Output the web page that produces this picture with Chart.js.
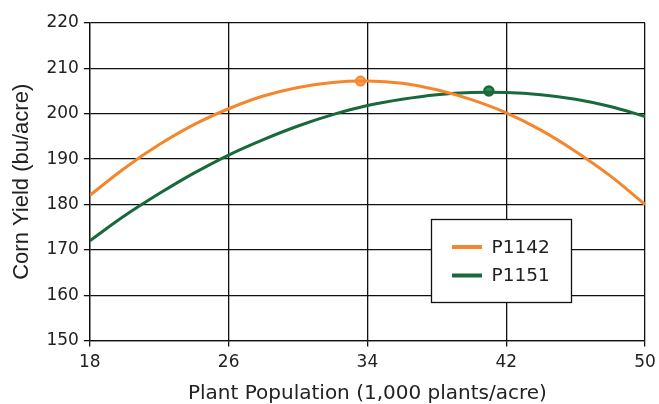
<!DOCTYPE html>
<html>
<head>
<meta charset="utf-8">
<script src="https://cdn.jsdelivr.net/npm/chart.js@4/dist/chart.umd.min.js"></script>
<style>
html,body{margin:0;padding:0;background:#fff;}
#wrap{width:659px;height:404px;position:relative;}
</style>
</head>
<body>
<div id="wrap"><canvas id="c" width="659" height="404"></canvas></div>
<script>
const populations = [18,20,22,24,26,28,30,32,34,36,38,40,42,44,46,48,50];
const p1142 = [182.0,188.0,193.2,197.6,201.1,203.9,205.8,206.9,207.2,206.7,205.3,203.1,200.2,196.4,191.7,186.3,180.0];
const p1151 = [172.0,177.5,182.4,186.9,190.9,194.3,197.3,199.8,201.8,203.2,204.2,204.7,204.7,204.2,203.2,201.6,199.4];
const p1142Max = {x:33.6, y:207.2};
const p1151Max = {x:41.0, y:205.0};
const seriesNames = ['P1142','P1151'];
const xTicks = [18,26,34,42,50];
const yTicks = [150,160,170,180,190,200,210,220];

const ORANGE = '#F6862C';
const GREEN = '#186A3A';
const FONT = '"DejaVu Sans", Verdana, sans-serif';
const YFONT = '"Liberation Sans", Arial, sans-serif';

const legendPlugin = {
  id: 'boxLegend',
  afterDraw(chart) {
    const ctx = chart.ctx;
    const xs = chart.scales.x, ys = chart.scales.y;
    const x0 = Math.round(xs.getPixelForValue(37.68)) + 0.5, x1 = Math.round(xs.getPixelForValue(45.74)) + 0.5;
    const y0 = Math.round(ys.getPixelForValue(176.7)) + 0.5, y1 = Math.round(ys.getPixelForValue(158.4)) + 0.5;
    ctx.save();
    ctx.fillStyle = '#fff';
    ctx.fillRect(x0, y0, x1 - x0, y1 - y0);
    ctx.strokeStyle = '#111';
    ctx.lineWidth = 1.3;
    ctx.strokeRect(x0, y0, x1 - x0, y1 - y0);
    const cols = [ORANGE, GREEN];
    ctx.font = '18.5px ' + FONT;
    ctx.textBaseline = 'middle';
    for (let i = 0; i < 2; i++) {
      const cy = y0 + 27.5 + i * 28.5;
      ctx.strokeStyle = cols[i];
      ctx.lineWidth = 4;
      ctx.beginPath();
      ctx.moveTo(x0 + 20.5, cy);
      ctx.lineTo(x0 + 50.5, cy);
      ctx.stroke();
      ctx.fillStyle = '#222';
      ctx.fillText(seriesNames[i], x0 + 60, cy + 1);
    }
    ctx.restore();
  }
};

new Chart(document.getElementById('c'), {
  type: 'line',
  data: {
    datasets: [
      {label: seriesNames[0], data: populations.map((x,i)=>({x, y:p1142[i]})), borderColor: ORANGE, borderWidth: 3, pointRadius: 0, tension: 0.4},
      {label: seriesNames[1], data: populations.map((x,i)=>({x, y:p1151[i]})), borderColor: GREEN, borderWidth: 3, pointRadius: 0, tension: 0.4},
      {label: 'max1', data: [p1142Max], showLine: false, pointRadius: 4.5, pointBorderWidth: 2, pointBorderColor: ORANGE, pointBackgroundColor: '#F9A868'},
      {label: 'max2', data: [p1151Max], showLine: false, pointRadius: 4.5, pointBorderWidth: 2.5, pointBorderColor: GREEN, pointBackgroundColor: '#3C8A5A'}
    ]
  },
  options: {
    responsive: false,
    animation: false,
    layout: {padding: {left: 0, right: 14, top: 23, bottom: 0}},
    plugins: {legend: {display: false}, tooltip: {enabled: false}},
    scales: {
      x: {
        type: 'linear', min: 18, max: 50,
        afterBuildTicks: s => { s.ticks = xTicks.map(v => ({value: v})); },
        afterFit: s => { s.paddingRight = 0; },
        ticks: {color: '#222', font: {family: FONT, size: 17}, padding: 6},
        grid: {color: '#111', lineWidth: 1.3, tickLength: 6},
        border: {color: '#111', width: 1.3},
        title: {display: true, text: 'Plant Population (1,000 plants/acre)', color: '#222', font: {family: FONT, size: 20, lineHeight: 1.0}, padding: {top: 5, bottom: 0}}
      },
      y: {
        type: 'linear', min: 150, max: 220,
        afterBuildTicks: s => { s.ticks = yTicks.map(v => ({value: v})); },
        ticks: {color: '#222', font: {family: FONT, size: 17}, padding: 5},
        grid: {color: '#111', lineWidth: 1.3, tickLength: 6},
        border: {color: '#111', width: 1.3},
        title: {display: true, text: 'Corn Yield (bu/acre)', color: '#222', font: {family: YFONT, size: 22}, padding: {top: 9, bottom: 6}}
      }
    }
  },
  plugins: [legendPlugin]
});
</script>
</body>
</html>
